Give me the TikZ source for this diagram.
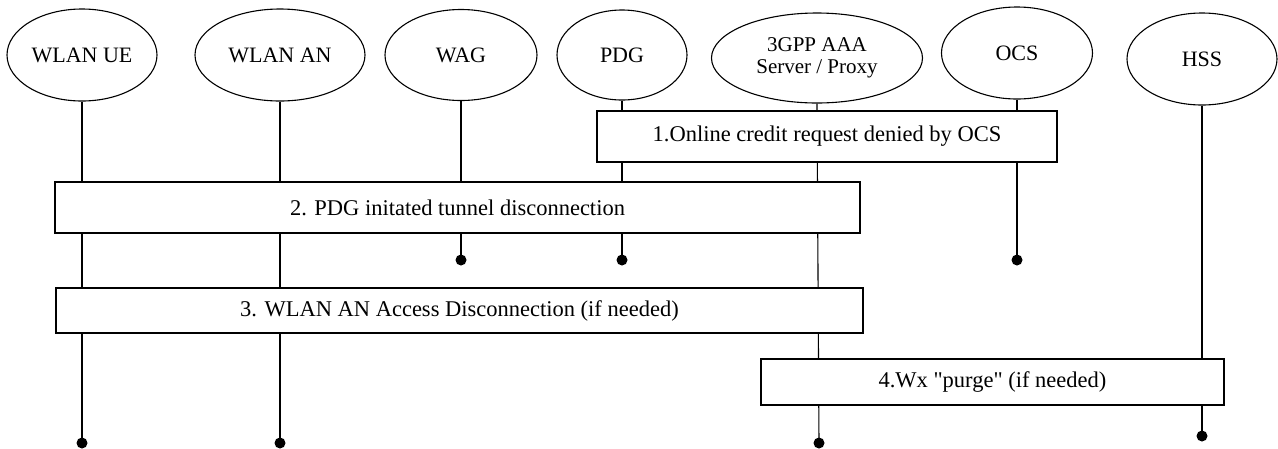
\documentclass[tikz,border=0pt]{standalone}
\usepackage{fontspec}
\setmainfont{Liberation Serif}[Ligatures=TeXOff]
\usetikzlibrary{shapes.geometric}
\tikzset{
  ent/.style={draw, ellipse, line width=1.1pt, inner sep=0pt, minimum width=150pt, minimum height=92pt, align=center, font=\fontsize{22}{26}\selectfont},
  msgbox/.style={draw, rectangle, line width=1.1pt, fill=white, inner sep=0pt, font=\fontsize{22.5}{27}\selectfont},
  life/.style={line width=1.1pt},
  enddot/.style={fill=black}
}
\begin{document}
\begin{tikzpicture}[x=1pt,y=-1pt]
\useasboundingbox (0,0) rectangle (1278,448);
% entities
\node[ent] (ue) at (82,55) {WLAN UE};
\node[ent, minimum width=170pt] (an) at (280,55) {WLAN AN};
\node[ent, minimum width=152pt, minimum height=91pt] (wag) at (461,55) {WAG};
\node[ent, minimum width=130pt, minimum height=90pt] (pdg) at (622,55) {PDG};
\node[ent, minimum width=211pt, minimum height=90pt, font=\fontsize{21}{22}\selectfont] (aaa) at (817,58) {3GPP AAA\\Server / Proxy};
\node[ent, minimum width=151pt, minimum height=92pt] (ocs) at (1017,53) {OCS};
\node[ent, minimum width=150pt, minimum height=92pt] (hss) at (1202,59) {HSS};
% lifeline ends
\coordinate (ueE) at (82,443);
\coordinate (anE) at (280,443);
\coordinate (wagE) at (461,260);
\coordinate (pdgE) at (622,260);
\coordinate (aaaE) at (819,443);
\coordinate (ocsE) at (1017,260);
\coordinate (hssE) at (1202,436);
\foreach \n in {ue,an,wag,pdg,aaa,ocs,hss}{
  \draw[life] (\n.south) -- (\n E);
  \fill[enddot] (\n E) circle (5.5pt);
}
% message boxes
\node[msgbox, minimum width=460pt, minimum height=51pt] (m1) at (827,136.5) {1.Online credit request denied by OCS};
\node[msgbox, minimum width=805pt, minimum height=51pt] (m2) at (457.5,207.5) {2. PDG initated tunnel disconnection};
\node[msgbox, minimum width=807pt, minimum height=45pt] (m3) at (459.5,310.5) {3. WLAN AN Access Disconnection (if needed)};
\node[msgbox, minimum width=463pt, minimum height=46pt] (m4) at (992.5,382) {4.Wx "purge" (if needed)};
\end{tikzpicture}
\end{document}
